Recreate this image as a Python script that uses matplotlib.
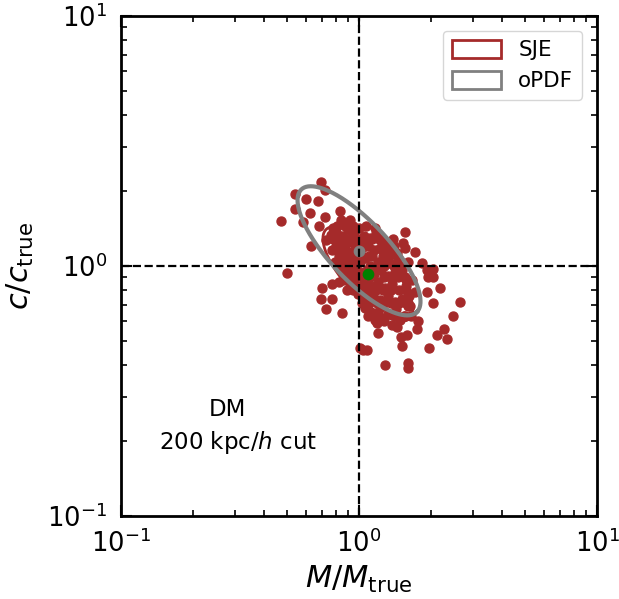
import numpy as np
import matplotlib
matplotlib.use("Agg")
import matplotlib.pyplot as plt
from matplotlib.patches import Patch

# mass ratio / concentration ratio of each halo
m_ratio = [0.69, 0.72, 0.54, 0.60, 0.67, 0.54, 0.62, 0.58, 0.47, 0.68,
           0.72, 0.83, 0.84, 0.92, 1.00, 0.63, 0.50, 1.56, 1.39, 1.53,
           1.56, 1.72, 1.44, 1.29, 1.61, 1.84, 2.05, 1.93, 1.17, 1.95,
           2.05, 2.19, 1.93, 2.05, 2.66, 2.48, 1.77, 1.75, 2.28, 2.13,
           2.34, 1.59, 1.50, 1.52, 1.97, 1.08, 1.29, 1.61, 1.61, 1.19,
           1.20, 1.44, 1.56, 1.61, 0.70, 0.77, 0.82, 0.69, 0.77, 0.73,
           0.85, 0.89, 1.04, 1.01,
           0.76, 0.80, 0.85, 0.90, 0.95, 0.82, 0.87, 0.93, 0.99, 1.05,
           1.11, 1.18, 1.25, 1.32, 0.77, 0.83, 0.89, 0.95, 1.03, 1.09,
           1.16, 1.22, 1.30, 1.38, 0.79, 0.85, 0.92, 0.99, 1.06, 1.13,
           1.20, 1.29, 1.38, 1.46, 0.87, 0.93, 1.01, 1.08, 1.16, 1.24,
           1.32, 1.42, 1.52, 0.92, 0.97, 1.05, 1.12, 1.20, 1.29, 1.38,
           1.47, 1.57, 1.67, 0.99, 1.07, 1.14, 1.22, 1.32, 1.42, 1.52,
           1.62, 1.72, 1.06, 1.13, 1.22, 1.32, 1.43, 1.55, 1.64, 1.17,
           1.27, 1.38, 1.49, 1.11, 1.01, 0.86, 0.73, 0.78, 0.87,
           0.78, 0.84, 0.91, 0.97, 1.04, 1.13, 1.21,
           0.82, 0.87, 0.94, 1.02, 1.10, 1.26, 1.34,
           0.83, 0.90, 0.96, 1.11, 1.19, 1.27, 1.40, 1.49,
           0.90, 0.96, 1.04, 1.11, 1.27, 1.36, 1.46, 1.56,
           0.94, 1.02, 1.09, 1.18, 1.26, 1.36, 1.57,
           1.03, 1.10, 1.19, 1.27, 1.36, 1.47, 1.57,
           1.09, 1.21, 1.43, 1.65,
           0.80, 0.85, 0.98, 1.29, 1.40,
           0.81, 0.94, 1.07]
c_ratio = [2.17, 2.01, 1.94, 1.85, 1.82, 1.69, 1.63, 1.50, 1.51, 1.45,
           1.57, 1.66, 1.53, 1.53, 1.42, 1.20, 0.94, 1.37, 1.28, 1.24,
           1.18, 1.14, 1.13, 1.13, 1.04, 1.03, 0.97, 0.96, 1.42, 0.90,
           0.90, 0.82, 0.79, 0.71, 0.72, 0.63, 0.60, 0.56, 0.56, 0.53,
           0.51, 0.53, 0.52, 0.48, 0.47, 0.46, 0.40, 0.41, 0.39, 0.59,
           0.54, 0.57, 0.63, 0.69, 0.82, 0.85, 0.86, 0.74, 0.74, 0.67,
           0.65, 0.80, 0.46, 0.47,
           1.33, 1.37, 1.32, 1.39, 1.34, 1.24, 1.21, 1.25, 1.27, 1.32,
           1.29, 1.36, 1.27, 1.22, 1.16, 1.12, 1.14, 1.16, 1.18, 1.20,
           1.16, 1.18, 1.14, 1.16, 1.04, 1.06, 1.04, 1.08, 1.08, 1.10,
           1.04, 1.06, 1.02, 1.08, 0.96, 0.93, 0.95, 0.96, 0.93, 0.96,
           0.91, 0.95, 0.96, 0.86, 0.84, 0.86, 0.83, 0.86, 0.82, 0.85,
           0.80, 0.83, 0.88, 0.77, 0.74, 0.77, 0.73, 0.76, 0.72, 0.74,
           0.76, 0.79, 0.68, 0.65, 0.68, 0.64, 0.67, 0.63, 0.69, 0.61,
           0.60, 0.58, 0.61, 0.73, 1.04, 0.88, 1.27, 1.42, 1.45,
           1.28, 1.28, 1.28, 1.28, 1.28, 1.28, 1.28,
           1.10, 1.10, 1.10, 1.10, 1.10, 1.10, 1.10,
           1.00, 1.00, 1.00, 1.00, 1.00, 1.00, 1.00, 1.00,
           0.90, 0.90, 0.90, 0.90, 0.90, 0.90, 0.90, 0.90,
           0.80, 0.80, 0.80, 0.80, 0.80, 0.80, 0.80,
           0.71, 0.71, 0.71, 0.71, 0.71, 0.71, 0.71,
           0.63, 0.63, 0.63, 0.63,
           1.20, 1.20, 1.20, 1.20, 1.20,
           1.45, 1.45, 1.45]

# ellipse summaries: centre, semi-axes (dex), angle (deg) in log space
sje_center = (1.09, 0.93)
sje_axes = (0.25, 0.095)
opdf_center = (1.00, 1.15)
opdf_axes = (0.345, 0.12)
ell_angle = -45.0

brown = "#a52a2a"


def log_ellipse(center, axes, angle, n=300):
    t = np.linspace(0, 2 * np.pi, n)
    a, b = axes
    th = np.deg2rad(angle)
    lx = a * np.cos(t) * np.cos(th) - b * np.sin(t) * np.sin(th)
    ly = a * np.cos(t) * np.sin(th) + b * np.sin(t) * np.cos(th)
    return center[0] * 10**lx, center[1] * 10**ly


fig = plt.figure(figsize=(6.19, 5.99), dpi=100)
ax = fig.add_axes([0.1955, 0.1386, 0.769, 0.8347])

ax.scatter(m_ratio, c_ratio, s=42, color=brown, zorder=2)

ex, ey = log_ellipse(sje_center, sje_axes, ell_angle)
ax.plot(ex, ey, color=brown, lw=2, zorder=3)
ex, ey = log_ellipse(opdf_center, opdf_axes, ell_angle)
ax.plot(ex, ey, color="gray", lw=3, zorder=3)

ax.scatter([opdf_center[0]], [opdf_center[1]], s=55, color="gray", zorder=4)
ax.scatter([sje_center[0]], [sje_center[1]], s=55, color="green", zorder=4)

ax.axvline(1, color="k", ls="--", lw=1.6, zorder=5)
ax.axhline(1, color="k", ls="--", lw=1.6, zorder=5)

ax.set_xscale("log")
ax.set_yscale("log")
ax.set_xlim(0.1, 10)
ax.set_ylim(0.1, 10)

ax.set_xlabel(r"$M/M_{\rm true}$", fontsize=22, labelpad=4)
ax.set_ylabel(r"$c/c_{\rm true}$", fontsize=22, labelpad=8)
ax.tick_params(which="both", direction="in", top=True, right=True, labelsize=18.5)
ax.tick_params(which="major", length=8, width=1.5, pad=10)
ax.tick_params(which="minor", length=4, width=1.2)
for sp in ax.spines.values():
    sp.set_linewidth(2)

ax.text(0.224, 0.212, "DM", transform=ax.transAxes,
        ha="center", va="center", fontsize=16.5)
ax.text(0.246, 0.146, "200 kpc/$h$ cut", transform=ax.transAxes,
        ha="center", va="center", fontsize=16.5)

handles = [Patch(facecolor="none", edgecolor=brown, lw=2, label="SJE"),
           Patch(facecolor="none", edgecolor="gray", lw=2, label="oPDF")]
ax.legend(handles=handles, loc="upper right", fontsize=15.5,
          handlelength=2.3, handleheight=0.9, borderaxespad=0.7)

fig.savefig("out.png", dpi=100)
